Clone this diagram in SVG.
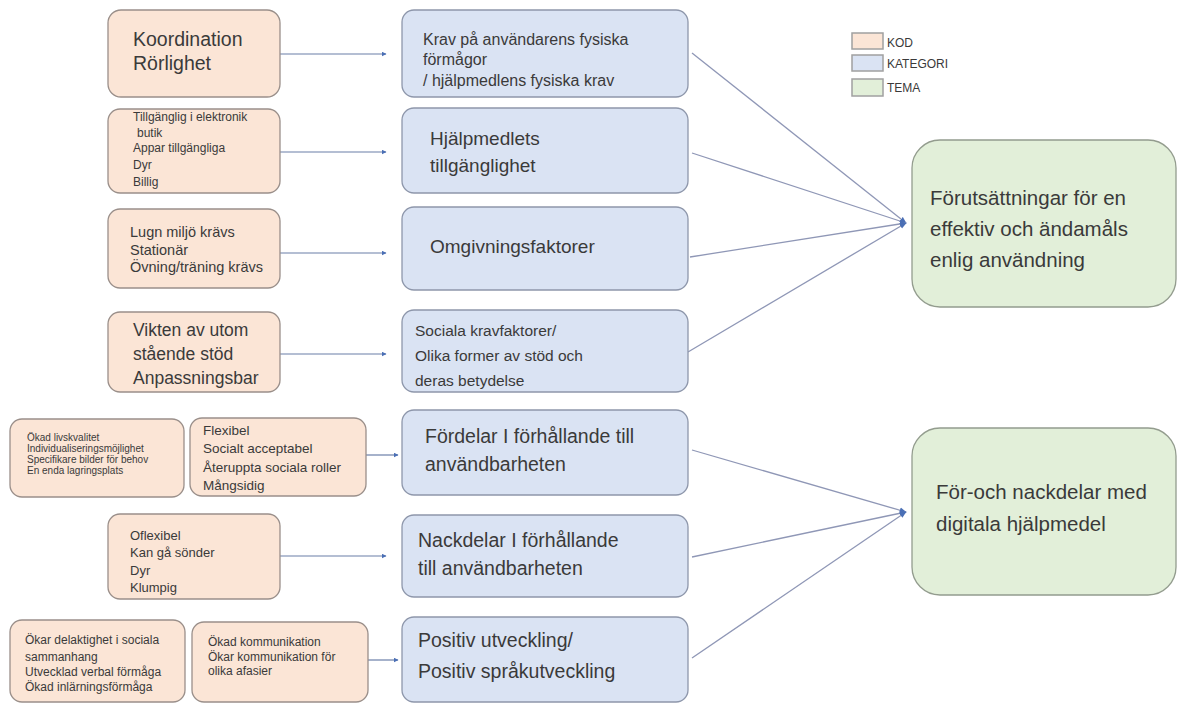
<svg xmlns="http://www.w3.org/2000/svg" width="1178" height="706" viewBox="0 0 1178 706">
<defs>
<marker id="arr" viewBox="0 0 10 10" refX="9" refY="5" markerWidth="5" markerHeight="5" orient="auto" markerUnits="userSpaceOnUse">
<path d="M0,0 L10,5 L0,10 z" fill="#4a6fb5"/>
</marker>
<marker id="dot" viewBox="0 0 10 10" refX="9" refY="5" markerWidth="7" markerHeight="7" orient="auto" markerUnits="userSpaceOnUse">
<path d="M0,1 L10,5 L0,9 z" fill="#4a6fb5"/>
</marker>
<style>
.kod{fill:#fbe5d6;stroke:#9a8f8a;stroke-width:1.3}
.kat{fill:#dae3f3;stroke:#8e97ab;stroke-width:1.3}
.tema{fill:#e2efd9;stroke:#939c8e;stroke-width:1.3}
text{font-family:"Liberation Sans",Arial,sans-serif;fill:#3a3a3a}
.c{stroke:#8f97b6;stroke-width:1.3;fill:none}
.a{stroke:#6b7fa8;stroke-width:1.2;fill:none;marker-end:url(#arr)}
.lg{stroke:#a0a0a0;stroke-width:1.5}
</style>
</defs>
<rect width="1178" height="706" fill="#ffffff"/>

<g id="connectors">
<line class="a" x1="280" y1="54" x2="386" y2="54"/>
<line class="a" x1="280" y1="152" x2="386" y2="152"/>
<line class="a" x1="280" y1="253" x2="386" y2="253"/>
<line class="a" x1="280" y1="354" x2="386" y2="354"/>
<line class="a" x1="366" y1="455" x2="398" y2="455"/>
<line class="a" x1="280" y1="556" x2="386" y2="556"/>
<line class="a" x1="368" y1="660" x2="398" y2="660"/>
<line class="c" x1="692" y1="53" x2="906" y2="223" marker-end="url(#dot)"/>
<line class="c" x1="692" y1="153" x2="906" y2="223" marker-end="url(#dot)"/>
<line class="c" x1="690" y1="257" x2="906" y2="223" marker-end="url(#dot)"/>
<line class="c" x1="688" y1="352" x2="906" y2="223" marker-end="url(#dot)"/>
<line class="c" x1="692" y1="450" x2="906" y2="512" marker-end="url(#dot)"/>
<line class="c" x1="692" y1="557" x2="906" y2="512" marker-end="url(#dot)"/>
<line class="c" x1="692" y1="658" x2="906" y2="512" marker-end="url(#dot)"/>
</g>

<g id="kod1"><rect class="kod" x="108" y="10" width="172" height="87" rx="13"/>
<text x="133" y="46" font-size="19.5">Koordination</text><text x="133" y="70" font-size="19.5">Rörlighet</text></g>

<g id="kod2"><rect class="kod" x="108" y="109" width="172" height="84" rx="12"/>
<g font-size="12"><text x="133" y="121">Tillgänglig i elektronik</text><text x="137" y="137">butik</text><text x="133" y="152">Appar tillgängliga</text><text x="133" y="169">Dyr</text><text x="133" y="186">Billig</text></g></g>

<g id="kod3"><rect class="kod" x="108" y="209" width="172" height="79" rx="12"/>
<g font-size="14.5"><text x="130" y="237">Lugn miljö  krävs</text><text x="130" y="255">Stationär</text><text x="130" y="272">Övning/träning krävs</text></g></g>

<g id="kod4"><rect class="kod" x="108" y="312" width="172" height="80" rx="12"/>
<g font-size="17.5"><text x="133" y="336">Vikten av utom</text><text x="133" y="360">stående stöd</text><text x="133" y="384">Anpassningsbar</text></g></g>

<g id="kod5a"><rect class="kod" x="10" y="419" width="174" height="78" rx="12"/>
<g font-size="10"><text x="27" y="441">Ökad livskvalitet</text><text x="27" y="452">Individualiseringsmöjlighet</text><text x="27" y="463">Specifikare bilder för behov</text><text x="27" y="474">En enda lagringsplats</text></g></g>

<g id="kod5b"><rect class="kod" x="190" y="418" width="176" height="78" rx="12"/>
<g font-size="13.5"><text x="203" y="435">Flexibel</text><text x="203" y="453">Socialt acceptabel</text><text x="203" y="472">Återuppta sociala roller</text><text x="203" y="490">Mångsidig</text></g></g>

<g id="kod6"><rect class="kod" x="108" y="514" width="172" height="85" rx="12"/>
<g font-size="13"><text x="130" y="540">Oflexibel</text><text x="130" y="557">Kan gå sönder</text><text x="130" y="575">Dyr</text><text x="130" y="592">Klumpig</text></g></g>

<g id="kod7a"><rect class="kod" x="10" y="620" width="175" height="82" rx="12"/>
<g font-size="12"><text x="25" y="644">Ökar delaktighet i sociala</text><text x="25" y="661">sammanhang</text><text x="25" y="676">Utvecklad verbal förmåga</text><text x="25" y="691">Ökad inlärningsförmåga</text></g></g>

<g id="kod7b"><rect class="kod" x="192" y="622" width="176" height="80" rx="12"/>
<g font-size="12"><text x="208" y="646">Ökad kommunikation</text><text x="208" y="661">Ökar kommunikation för</text><text x="208" y="675">olika afasier</text></g></g>

<g id="kat1"><rect class="kat" x="402" y="10" width="286" height="87" rx="12"/>
<g font-size="16"><text x="423" y="45">Krav på användarens fysiska</text><text x="423" y="65">förmågor</text><text x="423" y="86">/ hjälpmedlens fysiska krav</text></g></g>

<g id="kat2"><rect class="kat" x="402" y="108" width="286" height="85" rx="12"/>
<g font-size="19"><text x="430" y="145">Hjälpmedlets</text><text x="430" y="172">tillgänglighet</text></g></g>

<g id="kat3"><rect class="kat" x="402" y="207" width="286" height="83" rx="12"/>
<text x="430" y="253" font-size="19">Omgivningsfaktorer</text></g>

<g id="kat4"><rect class="kat" x="402" y="310" width="286" height="82" rx="12"/>
<g font-size="15.5"><text x="415" y="336">Sociala kravfaktorer/</text><text x="415" y="361">Olika former  av stöd och</text><text x="415" y="386">deras betydelse</text></g></g>

<g id="kat5"><rect class="kat" x="402" y="410" width="286" height="85" rx="12"/>
<g font-size="19.5"><text x="425" y="443">Fördelar I förhållande till</text><text x="425" y="471">användbarheten</text></g></g>

<g id="kat6"><rect class="kat" x="402" y="515" width="286" height="82" rx="12"/>
<g font-size="19.5"><text x="418" y="547">Nackdelar I förhållande</text><text x="418" y="575">till användbarheten</text></g></g>

<g id="kat7"><rect class="kat" x="402" y="617" width="286" height="85" rx="12"/>
<g font-size="19.5"><text x="418" y="647">Positiv utveckling/</text><text x="418" y="678">Positiv språkutveckling</text></g></g>

<g id="tema1"><rect class="tema" x="912" y="140" width="264" height="167" rx="28"/>
<g font-size="20.5"><text x="930" y="205">Förutsättningar för en</text><text x="930" y="236">effektiv och ändamåls</text><text x="930" y="267">enlig användning</text></g></g>

<g id="tema2"><rect class="tema" x="912" y="428" width="264" height="167" rx="28"/>
<g font-size="20.5"><text x="936" y="499">För-och nackdelar med</text><text x="936" y="531">digitala hjälpmedel</text></g></g>

<g id="legend">
<rect x="852" y="33" width="31" height="16" style="fill:#fbe5d6" class="lg"/>
<rect x="852" y="55" width="31" height="16" style="fill:#dae3f3" class="lg"/>
<rect x="852" y="79" width="31" height="17" style="fill:#e2efd9" class="lg"/>
<g font-size="12"><text x="887" y="47">KOD</text><text x="887" y="68">KATEGORI</text><text x="887" y="92">TEMA</text></g>
</g>
</svg>
